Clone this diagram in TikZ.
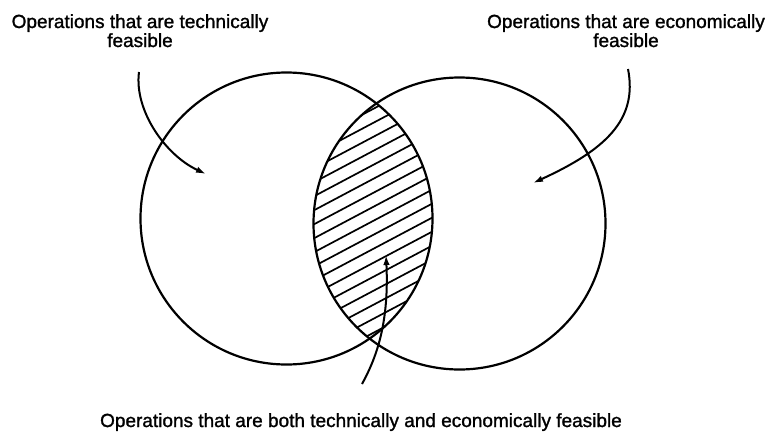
\documentclass[tikz,border=0pt]{standalone}
\usepackage{fontspec}
\setmainfont{Liberation Sans}
\newfontfamily\lblfont[FakeBold=1.3]{Liberation Sans}
\usetikzlibrary{arrows.meta}
\begin{document}
\begin{tikzpicture}[x=1pt,y=-1pt,
  lbl/.style={font=\lblfont\fontsize{19}{19}\selectfont, inner sep=0pt, align=center, anchor=base},
  setcirc/.style={draw, circle, minimum size=292pt, inner sep=0pt, line width=2.2pt},
  hatch/.style={line width=1.7pt},
  arr/.style={line width=2pt, -{Latex[length=10pt,width=6.5pt]}}]
\useasboundingbox (0,0) rectangle (765,431);
% circles
\node[setcirc] (L) at (286.5,218.5) {};
\node[setcirc] (R) at (459.5,223.5) {};
% hatching of intersection
\begin{scope}
  \clip (L.center) circle[radius=146pt];
  \clip (R.center) circle[radius=146pt];
  \foreach \i in {-14,...,14}{
    \draw[hatch] (290,{221+14*\i+0.53*83}) -- (460,{221+14*\i-0.53*87});
  }
\end{scope}
% labels
\node[lbl] (tl) at (140,47) {Operations that are technically\\feasible};
\node[lbl] (tr) at (626,47) {Operations that are economically\\feasible};
\node[lbl] (bt) at (361,427) {Operations that are both technically and economically feasible};
% arrows
\coordinate (a1s) at (139,72);
\coordinate (a1e) at (206,174);
\coordinate (a2s) at (628,69);
\coordinate (a2e) at (533,183);
\coordinate (a3s) at (362,384);
\coordinate (a3e) at (386,255);
\draw[arr] (a1s) .. controls (134,110) and (165,155) .. (a1e);
\draw[arr] (a2s) .. controls (638,120) and (605,150) .. (a2e);
\draw[arr] (a3s) .. controls (378,355) and (389,320) .. (a3e);
\end{tikzpicture}
\end{document}
